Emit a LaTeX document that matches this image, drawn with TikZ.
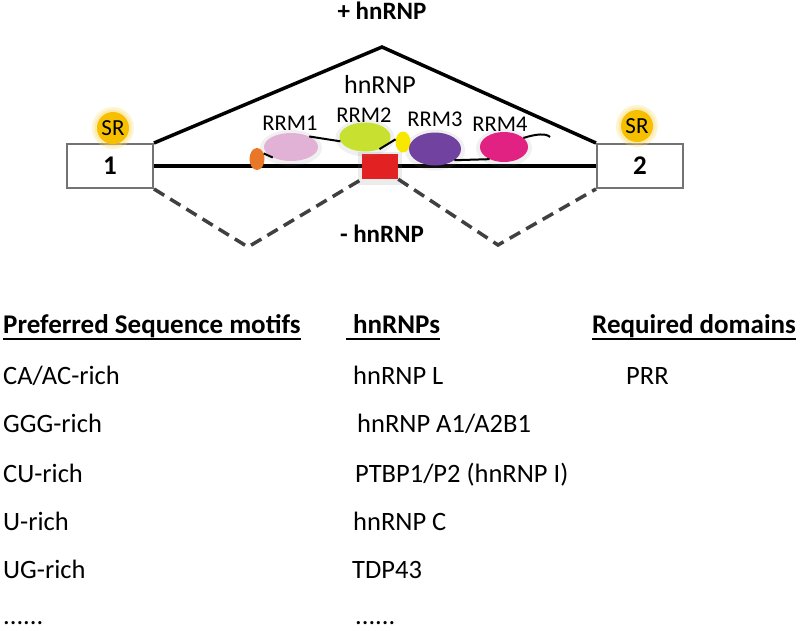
\documentclass[tikz,border=0pt]{standalone}
\usepackage{fontspec}
\setmainfont{Carlito}
\usetikzlibrary{shapes.geometric,calc}
\definecolor{srcol}{RGB}{246,192,0}
\definecolor{r1col}{RGB}{226,178,214}
\definecolor{r2col}{RGB}{200,224,48}
\definecolor{ycol}{RGB}{248,232,0}
\definecolor{r3col}{RGB}{114,66,160}
\definecolor{r4col}{RGB}{226,34,130}
\definecolor{ocol}{RGB}{232,120,40}
\definecolor{redcol}{RGB}{226,34,34}
\begin{document}
\begin{tikzpicture}[x=1pt,y=-1pt,
  exon/.style={draw=gray!90!black,line width=2pt,fill=white,minimum width=86pt,minimum height=44pt,inner sep=0pt,font=\fontsize{27}{30}\selectfont\bfseries},
  srball/.style={circle,fill=srcol,minimum size=32pt,inner sep=0pt,font=\fontsize{23}{26}\selectfont},
  halo/.style={circle,fill=srcol!60,opacity=0.3,minimum size=#1,inner sep=0pt},
  dom/.style={ellipse,inner sep=0pt},
  glow/.style={ellipse,inner sep=0pt,fill=gray,opacity=0.12},
  domlab/.style={anchor=base,inner sep=0pt,font=\fontsize{22.5}{26}\selectfont},
  link/.style={line width=2pt,black},
  junc/.style={line width=3.5pt,black,line join=miter},
  skip/.style={line width=3.5pt,black!75,dash pattern=on 12pt off 7pt},
  bodytxt/.style={anchor=base west,inner sep=0pt,font=\fontsize{26.5}{30}\selectfont},
  headtxt/.style={anchor=base west,inner sep=0pt,font=\fontsize{27}{30}\selectfont\bfseries},
  uline/.style={line width=2pt,black}
]
\useasboundingbox (0,0) rectangle (800,630);

% exons
\node[exon] (box1) at (110,166) {1};
\node[exon] (box2) at (640,166) {2};
% main intron line
\draw[line width=4.5pt] (box1.east) -- (box2.west);

% SR proteins
\node[halo=42pt] (h1) at (113,128) {};
\node[halo=42pt] (h2) at (637,126) {};
\node[halo=37pt] (h1b) at (113,128) {};
\node[halo=37pt] (h2b) at (637,126) {};
\node[srball] (sr1) at (113,128) {SR};
\node[srball] (sr2) at (637,126) {SR};

% inclusion junction
\coordinate (apex) at (382,47);
\draw[junc] (box1.north east) -- (apex) -- (box2.north west);

% red binding site
\node[fill=gray,opacity=0.15,minimum width=44pt,minimum height=33pt,inner sep=0pt] (siteglow) at (380,168) {};
\node[fill=redcol,minimum width=36pt,minimum height=25pt,inner sep=0pt] (site) at (380,166.5) {};

% skipping junction
\coordinate (v1) at (248,247);
\coordinate (v2) at (498,245);
\draw[skip] (box1.south east) -- (v1) -- (site.south west);
\draw[skip] (site.south east) -- (v2) -- (box2.south west);

% glows
\node[glow,minimum width=62pt,minimum height=36pt] (g1) at (291,148) {};
\node[glow,minimum width=59pt,minimum height=37pt] (g2) at (365,138) {};
\node[glow,minimum width=60pt,minimum height=41pt] (g3) at (435,150) {};
\node[glow,minimum width=56pt,minimum height=38pt] (g4) at (504,148) {};

% hnRNP domains
\node[dom,fill=ocol,minimum width=15pt,minimum height=22pt] (orng) at (257,159) {};
\node[dom,fill=r1col,minimum width=54pt,minimum height=28pt] (rrm1) at (291,147) {};
\node[dom,fill=r2col,minimum width=51pt,minimum height=29pt] (rrm2) at (365,137) {};
\node[dom,fill=ycol,minimum width=15pt,minimum height=21pt] (yel) at (403,142) {};
\node[dom,fill=r3col,minimum width=52pt,minimum height=33pt] (rrm3) at (435,149) {};
\node[dom,fill=r4col,minimum width=48pt,minimum height=30pt] (rrm4) at (504,147) {};

\draw[link] (orng.40) -- (rrm1.210);
\draw[link] (rrm1.30) -- (rrm2.190);
\draw[link] (rrm2.320) -- (yel.160);
\draw[link] (rrm3.330) -- (rrm4.220);
\coordinate (tail) at (550,137);
\draw[link] (rrm4.25) .. controls (536,134) and (546,133) .. (tail);

% labels
\node[domlab] (l1) at (290,130) {RRM1};
\node[domlab] (l2) at (364,122) {RRM2};
\node[domlab] (l3) at (435,126) {RRM3};
\node[domlab] (l4) at (500,131) {RRM4};
\node[anchor=base,inner sep=0pt,font=\fontsize{26}{30}\selectfont] (hn) at (380,93) {hnRNP};
\node[anchor=base,inner sep=0pt,font=\fontsize{25}{28}\selectfont\bfseries] (plus) at (382,19) {+ hnRNP};
\node[anchor=base,inner sep=0pt,font=\fontsize{25}{28}\selectfont\bfseries] (minus) at (382,242) {- hnRNP};

% table
\node[headtxt] (c1h) at (3,333) {Preferred Sequence motifs};
\node[headtxt] (c2h) at (353,333) {hnRNPs};
\node[headtxt] (c3h) at (592,333) {Required domains};
\draw[uline] (3,339) -- (c1h.east |- 0,339);
\draw[uline] (346,339) -- (c2h.east |- 0,339);
\draw[uline] (592,339) -- (c3h.east |- 0,339);

\node[bodytxt] (r1a) at (3,384) {CA/AC-rich};
\node[bodytxt] (r2a) at (3,432) {GGG-rich};
\node[bodytxt] (r3a) at (3,482) {CU-rich};
\node[bodytxt] (r4a) at (3,530) {U-rich};
\node[bodytxt] (r5a) at (3,578) {UG-rich};
\node[bodytxt] (r6a) at (3,624) {......};

\node[bodytxt] (r1b) at (353,384) {hnRNP L};
\node[bodytxt] (r2b) at (357,432) {hnRNP A1/A2B1};
\node[bodytxt] (r3b) at (355,482) {PTBP1/P2 (hnRNP I)};
\node[bodytxt] (r4b) at (353,530) {hnRNP C};
\node[bodytxt] (r5b) at (352,578) {TDP43};
\node[bodytxt] (r6b) at (355,624) {......};

\node[bodytxt] (r1c) at (626,384) {PRR};
\end{tikzpicture}
\end{document}
